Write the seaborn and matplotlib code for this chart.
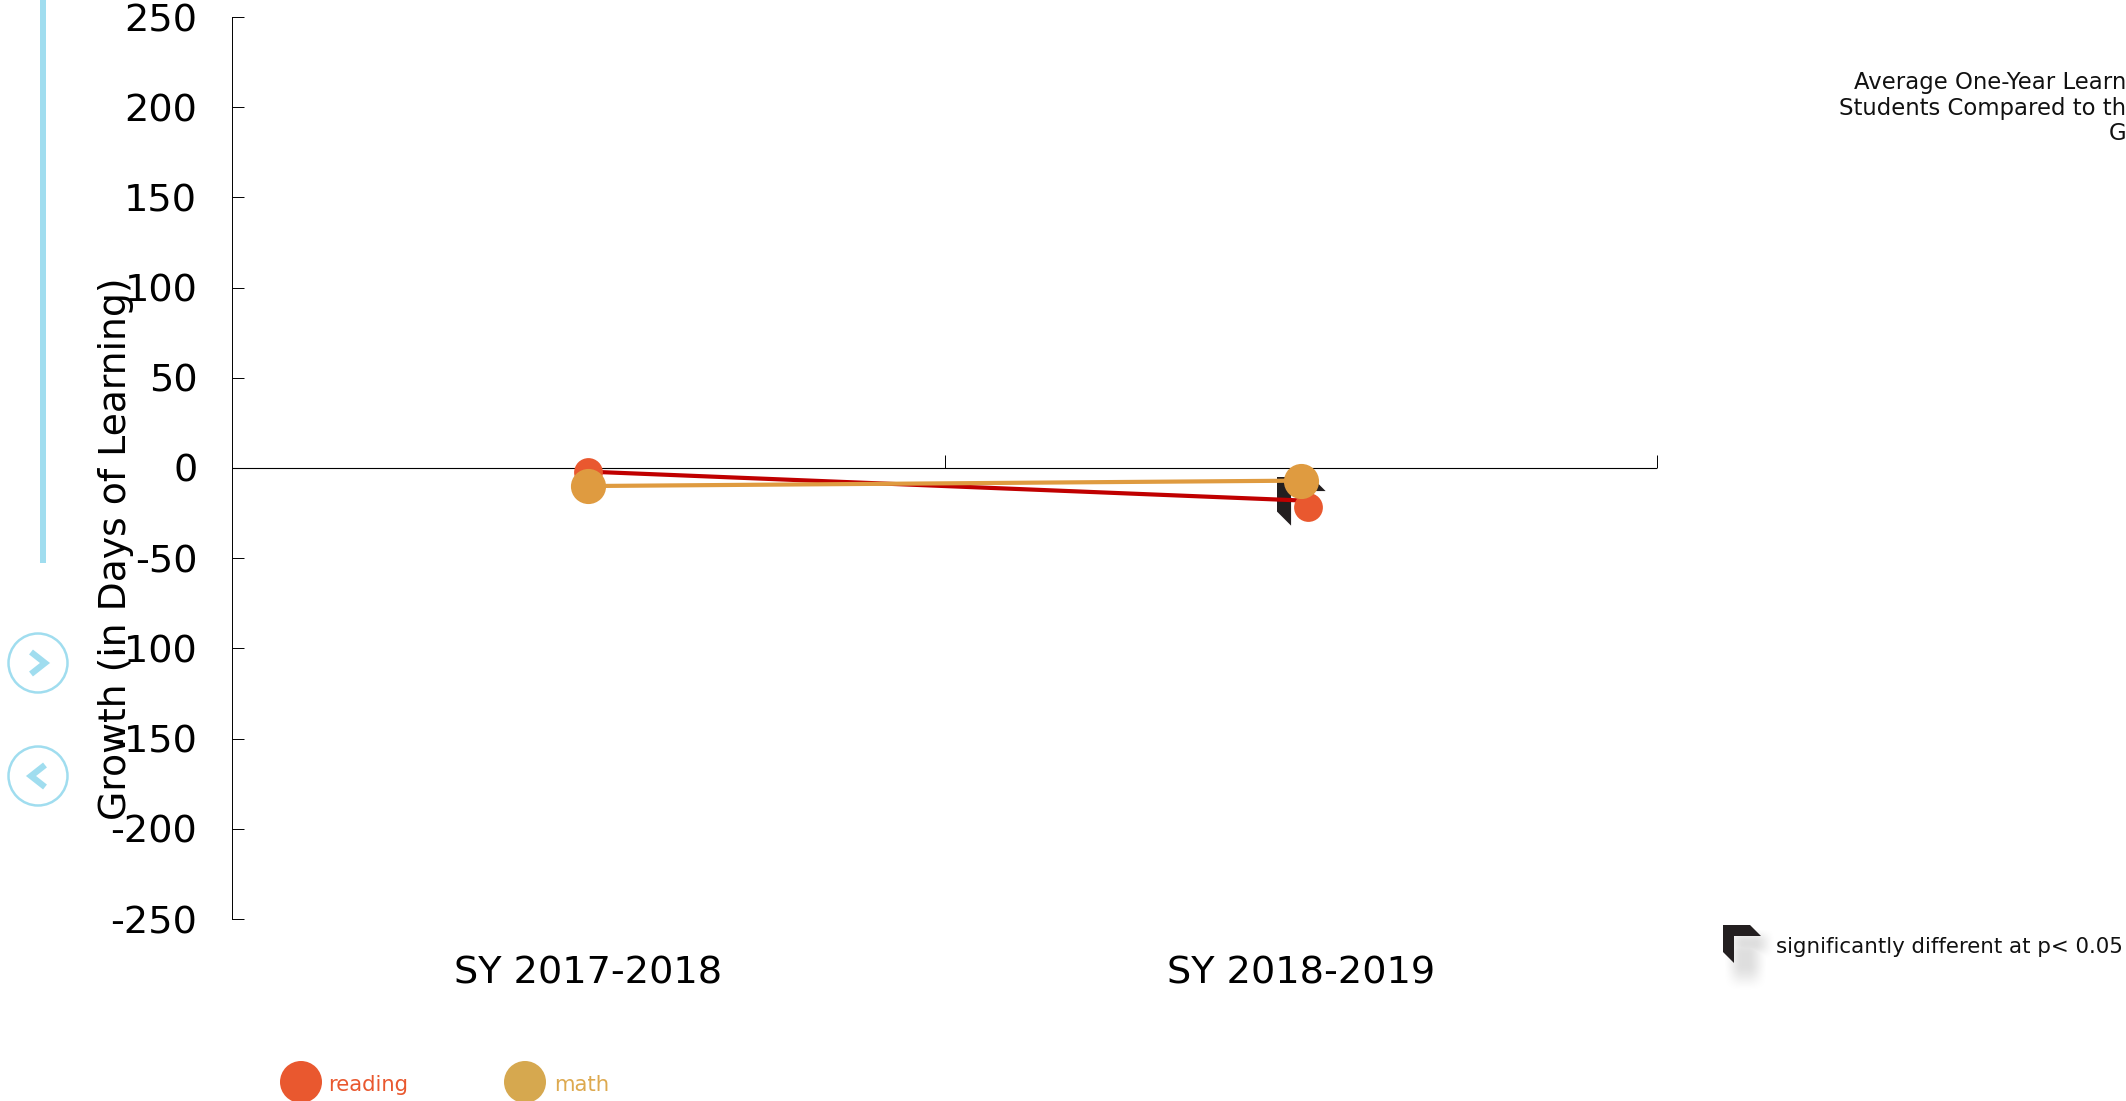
import numpy as np
import pandas as pd
import matplotlib
matplotlib.use('Agg')
import matplotlib.pyplot as plt
from matplotlib.patches import Polygon, Circle, Rectangle
import seaborn as sns

# values
years = ['SY 2017-2018', 'SY 2018-2019']
reading_line = [-2, -18]
reading_dots = [-2, -21.5]
reading_dot_pos = [0, 1.01]
math_values = [-10, -7]
y_ticks = [250, 200, 150, 100, 50, 0, -50, -100, -150, -200, -250]

title_lines = ['Average One-Year Learn', 'Students Compared to th', 'G']
note = 'significantly different at p< 0.05'

RED_DOT = '#E9582F'
RED_LINE = '#C00000'
GOLD = '#DF9B40'
GOLD_LEGEND = '#D6A84F'
BLUE = '#A0DDEF'
W, H = 2126, 1101

sns.set_theme(style='white')
plt.rcParams['font.family'] = 'DejaVu Sans'

fig = plt.figure(figsize=(W / 100, H / 100), dpi=100)

# pixel layer for everything that is not data
bg = fig.add_axes([0, 0, 1, 1], zorder=0)
bg.axis('off')

ax = fig.add_axes([232 / W, 1 - 919 / H, (1657 - 232) / W, (919 - 17) / H], zorder=1)
ax.patch.set_alpha(0)

lines = pd.DataFrame({'pos': [0, 1], 'reading': reading_line, 'math': math_values})
reading_pts = pd.DataFrame({'pos': reading_dot_pos, 'val': reading_dots})

ax.axhline(0, color='black', lw=0.8, zorder=1)
sns.lineplot(data=lines, x='pos', y='reading', color=RED_LINE, lw=3, ax=ax, zorder=3)
sns.scatterplot(data=reading_pts, x='pos', y='val', color=RED_DOT, s=430, linewidth=0, ax=ax, zorder=4)
sns.lineplot(data=lines, x='pos', y='math', color=GOLD, lw=3, ax=ax, zorder=5)
sns.scatterplot(data=lines, x='pos', y='math', color=GOLD, s=640, linewidth=0, ax=ax, zorder=6)

ax.set_xlim(-0.5, 1.5)
ax.set_ylim(-250, 250)
ax.set_xticks([0, 1], years)
ax.set_yticks(y_ticks, [str(t) for t in y_ticks])
ax.tick_params(axis='x', length=0, pad=26, labelsize=27.5, labelcolor='black')
ax.tick_params(axis='y', direction='in', length=8.5, width=0.7, color='black', pad=25,
               labelsize=27.5, labelcolor='black', left=True)
for sp in ['top', 'right', 'bottom']:
    ax.spines[sp].set_visible(False)
ax.spines['left'].set_color('black')
ax.spines['left'].set_linewidth(0.7)

# small ticks standing on the zero line
ax.vlines([0.5, 1.5], 0, 7, color='black', lw=0.7, clip_on=False)

ax.set_xlabel('')
ax.set_ylabel('')
fig.text(116 / W, 1 - 549 / H, 'Growth (in Days of Learning)', rotation=90, fontsize=27.2,
         color='black', ha='center', va='center', zorder=5)


def flag(x, y, s):
    # corner marker, x y is its top left in pixels, s=1 is the small legend one
    pts = np.array([(0, 0), (27, 0), (38, 11), (11, 11), (11, 38), (0, 27)], dtype=float) * s
    bg.add_patch(Polygon(pts + [x, y], closed=True, fc='#231F20', ec='none', zorder=3))


def bump(v, lo, hi, soft):
    t = np.clip((v - lo) / soft, 0, 1) * np.clip((hi - v) / soft, 0, 1)
    return t * t * (3 - 2 * t)


# soft shadow under the legend marker
sx, sy = np.meshgrid(np.arange(1725, 1785), np.arange(930, 995))
arm_h = bump(sx, 1722, 1776, 22) * bump(sy, 926, 960, 16)
arm_v = bump(sx, 1722, 1768, 20) * bump(sy, 926, 992, 28)
shadow = np.zeros(sx.shape + (4,))
shadow[..., 3] = 0.13 * np.maximum(arm_h, arm_v)
bg.imshow(shadow, extent=(1725, 1785, 995, 930), aspect='auto', interpolation='bilinear', zorder=1)

bg.set_xlim(0, W)
bg.set_ylim(H, 0)

# blue bar and the two round buttons on the left
bg.add_patch(Rectangle((40, 0), 6, 563, fc=BLUE, ec='none'))
for cy, d in [(663, 1), (776, -1)]:
    bg.add_patch(Circle((38, cy), 29.5, fc='none', ec=BLUE, lw=1.8))
    bg.plot([38 - 7 * d, 38 + 7 * d, 38 - 7 * d], [cy - 11, cy, cy + 11], color=BLUE, lw=4.5,
            solid_joinstyle='miter', solid_capstyle='butt')

# marker behind the second point
flag(1277, 477, 1.28)

for i, t in enumerate(title_lines):
    bg.text(W, 82 + i * 26, t, ha='right', va='center', fontsize=16.4, color='#111111')

# significance note
flag(1723, 925, 1)
bg.text(1776, 947, note, ha='left', va='center', fontsize=15.4, color='#111111')

# legend at the bottom
bg.add_patch(Circle((301, 1082), 21, fc=RED_DOT, ec='none'))
bg.text(328, 1085, 'reading', ha='left', va='center', fontsize=15.2, color=RED_DOT)
bg.add_patch(Circle((525, 1082), 21, fc=GOLD_LEGEND, ec='none'))
bg.text(554, 1085, 'math', ha='left', va='center', fontsize=15.3, color='#DDA94F')

fig.savefig('out.png', dpi=100)
